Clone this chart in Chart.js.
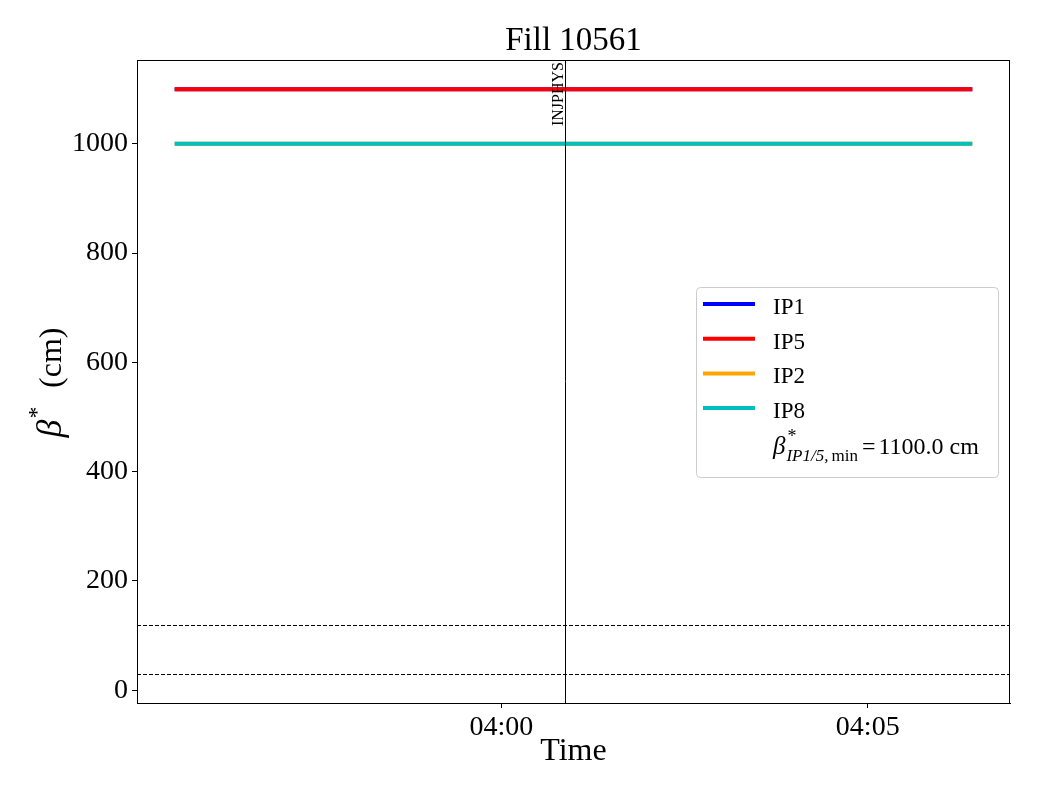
<!DOCTYPE html>
<html>
<head>
<meta charset="utf-8">
<script src="https://cdn.jsdelivr.net/npm/chart.js@4.4.1/dist/chart.umd.min.js"></script>
<style>
  html, body { margin: 0; padding: 0; background: #fff; }
  #wrap { width: 1040px; height: 800px; }
</style>
</head>
<body>
<div id="wrap"><canvas id="betaChart"></canvas></div>
<script>
// Values
const times = ['03:55:34', '04:06:24'];
const ip1 = [1100, 1100];
const ip5 = [1100, 1100];
const ip2 = [1000, 1000];
const ip8 = [1000, 1000];
const refLevels = [120, 30];
const markerTime = '04:00:52';
const markerLabel = 'INJPHYS';
const xTickLabels = ['04:00', '04:05'];
const yTicks = [0, 200, 400, 600, 800, 1000];
const betaMin = 1100.0;
const chartTitle = 'Fill 10561';

const SERIF = '"Liberation Serif", "DejaVu Serif", serif';

function toSec(t) {
    const p = t.split(':').map(Number);
    return p[0] * 3600 + p[1] * 60 + (p[2] || 0);
}
function fmtTime(s) {
    const h = Math.floor(s / 3600), m = Math.floor((s % 3600) / 60);
    return String(h).padStart(2, '0') + ':' + String(m).padStart(2, '0');
}

const xs = times.map(toSec);
const series = [
    { label: 'IP1', values: ip1, color: '#0000ff', order: 4 },
    { label: 'IP5', values: ip5, color: '#ff0000', order: 3 },
    { label: 'IP2', values: ip2, color: '#ffa500', order: 2 },
    { label: 'IP8', values: ip8, color: '#00bfbf', order: 1 },
];

// draws reference lines, marker, frame, legend, title and y label
const overlayPlugin = {
    id: 'overlay',
    afterDatasetsDraw(chart) {
        const { ctx, chartArea: a, scales: { x, y } } = chart;
        ctx.save();
        ctx.strokeStyle = '#000';
        ctx.lineWidth = 1;

        ctx.setLineDash([4, 2]);
        refLevels.forEach(v => {
            const py = Math.round(y.getPixelForValue(v)) + 0.5;
            ctx.beginPath();
            ctx.moveTo(a.left, py);
            ctx.lineTo(a.right, py);
            ctx.stroke();
        });
        ctx.setLineDash([]);

        const mx = Math.round(x.getPixelForValue(toSec(markerTime))) + 0.5;
        ctx.beginPath();
        ctx.moveTo(mx, a.top);
        ctx.lineTo(mx, a.bottom);
        ctx.stroke();

        ctx.save();
        ctx.translate(mx - 3, a.top + 2);
        ctx.rotate(-Math.PI / 2);
        ctx.font = '16px ' + SERIF;
        ctx.fillStyle = '#000';
        ctx.textAlign = 'right';
        ctx.textBaseline = 'alphabetic';
        ctx.fillText(markerLabel, 0, 0);
        ctx.restore();

        ctx.strokeRect(Math.round(a.left) + 0.5, Math.round(a.top) + 0.5,
            Math.round(a.width) - 1, Math.round(a.height));

        // legend
        const lx = a.right - 314, ly = a.top + 227, lw = 302, lh = 190;
        ctx.beginPath();
        ctx.roundRect(lx + 0.5, ly + 0.5, lw, lh, 4);
        ctx.fillStyle = 'rgba(255,255,255,0.8)';
        ctx.fill();
        ctx.strokeStyle = '#cccccc';
        ctx.stroke();

        ctx.textAlign = 'left';
        ctx.textBaseline = 'alphabetic';
        series.forEach((s, i) => {
            const rowY = ly + 17 + i * 34.7;
            ctx.strokeStyle = s.color;
            ctx.lineWidth = 4;
            ctx.beginPath();
            ctx.moveTo(lx + 7, rowY);
            ctx.lineTo(lx + 59, rowY);
            ctx.stroke();
            ctx.fillStyle = '#000';
            ctx.font = '23px ' + SERIF;
            ctx.fillText(s.label, lx + 77, rowY + 10);
        });

        let tx = lx + 77;
        const by = ly + 167;
        ctx.fillStyle = '#000';
        ctx.font = 'italic 25px ' + SERIF;
        ctx.fillText('β', tx, by);
        tx += ctx.measureText('β').width + 1;
        ctx.font = '18px ' + SERIF;
        ctx.fillText('*', tx + 1, by - 12);
        ctx.font = 'italic 17px ' + SERIF;
        ctx.fillText('IP1/5,', tx, by + 7);
        let sx = tx + ctx.measureText('IP1/5,').width + 3;
        ctx.font = '17px ' + SERIF;
        ctx.fillText('min', sx, by + 7);
        sx += ctx.measureText('min').width + 4;
        ctx.font = '24px ' + SERIF;
        ctx.fillText('=', sx, by);
        sx += ctx.measureText('=').width + 3;
        ctx.fillText(betaMin.toFixed(1) + ' cm', sx, by);

        ctx.restore();
    },
    afterDraw(chart) {
        const { ctx, chartArea: a } = chart;
        ctx.save();
        ctx.fillStyle = '#000';
        ctx.textBaseline = 'alphabetic';

        // title centred over the plot area
        ctx.font = '33px ' + SERIF;
        ctx.textAlign = 'center';
        ctx.fillText(chartTitle, (a.left + a.right) / 2, 50);

        // y label: beta* (cm), rotated
        ctx.textAlign = 'left';
        const big = '32px ' + SERIF, bigIt = 'italic 36px ' + SERIF, sup = '24px ' + SERIF;
        ctx.translate(61, (a.top + a.bottom) / 2 + 1);
        ctx.rotate(-Math.PI / 2);
        ctx.font = bigIt; const wb = ctx.measureText('β').width;
        ctx.fillText('β', -55, 0);
        ctx.font = sup; ctx.fillText('*', -55 + wb + 1, -17);
        ctx.font = big; ctx.textAlign = 'right'; ctx.fillText('(cm)', 55, 0);
        ctx.restore();
    }
};

const ctxBeta = document.getElementById('betaChart').getContext('2d');
const betaChart = new Chart(ctxBeta, {
    type: 'line',
    data: {
        datasets: series.map(s => ({
            label: s.label,
            data: xs.map((t, i) => ({ x: t, y: s.values[i] })),
            borderColor: s.color,
            backgroundColor: s.color,
            borderWidth: 4,
            borderCapStyle: 'square',
            pointRadius: 0,
            tension: 0,
            order: s.order,
        })),
    },
    options: {
        responsive: true,
        maintainAspectRatio: false,
        animation: false,
        layout: { padding: { left: 0, right: 30, top: 60, bottom: 0 } },
        scales: {
            x: {
                type: 'linear',
                min: 14101.5,
                max: 14816.5,
                afterBuildTicks: scale => {
                    scale.ticks = xTickLabels.map(t => ({ value: toSec(t) }));
                },
                afterFit: scale => { scale.height = 97; },
                grid: { drawOnChartArea: false, color: '#000', tickLength: 5 },
                border: { color: '#000', width: 1 },
                ticks: {
                    color: '#000',
                    padding: 3,
                    maxRotation: 0,
                    font: { family: SERIF, size: 28 },
                    callback: v => fmtTime(v),
                },
                title: {
                    display: true,
                    text: 'Time',
                    color: '#000',
                    font: { family: SERIF, size: 32, lineHeight: 1 },
                    padding: { top: 0, bottom: 32 },
                },
            },
            y: {
                min: -23.5,
                max: 1153.5,
                afterBuildTicks: scale => {
                    scale.ticks = yTicks.map(v => ({ value: v }));
                },
                afterFit: scale => { scale.width = 137; },
                grid: { drawOnChartArea: false, color: '#000', tickLength: 5 },
                border: { color: '#000', width: 1 },
                ticks: {
                    color: '#000',
                    padding: 4,
                    font: { family: SERIF, size: 28 },
                    callback: v => String(v),
                },
            },
        },
        plugins: {
            legend: { display: false },
            tooltip: { enabled: false },
            title: { display: false },
        },
    },
    plugins: [overlayPlugin],
});
</script>
</body>
</html>
